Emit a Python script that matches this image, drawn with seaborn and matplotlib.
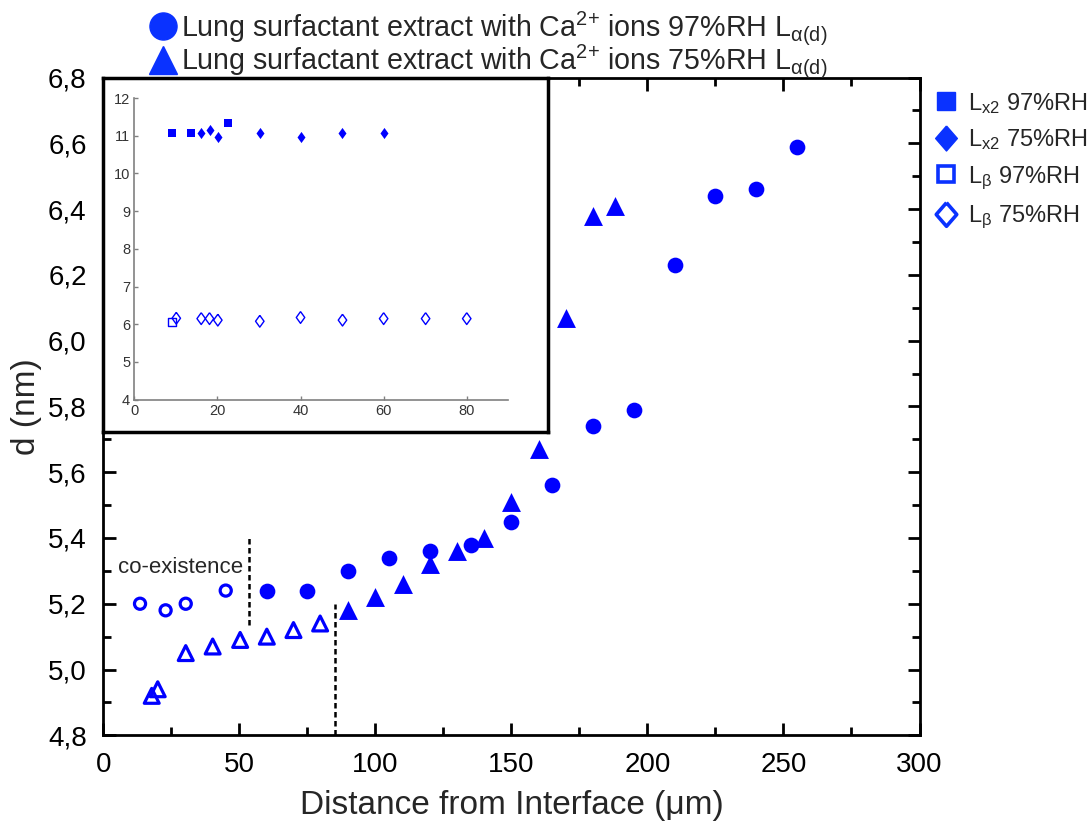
import matplotlib
matplotlib.use("Agg")
import matplotlib.pyplot as plt
import numpy as np
import pandas as pd
import seaborn as sns
from matplotlib.lines import Line2D
from matplotlib.ticker import MultipleLocator, FuncFormatter, FixedLocator

# ---------------- data ----------------
circ_open_x = [13.5, 22.9, 30.3, 45.0]
circ_open_y = [5.20, 5.18, 5.20, 5.24]
circ_fill_x = [60, 75, 90, 105, 120, 135, 150, 165, 180, 195, 210, 225, 240, 255]
circ_fill_y = [5.24, 5.24, 5.30, 5.34, 5.36, 5.38, 5.45, 5.56, 5.74, 5.79, 6.23, 6.44, 6.46, 6.59]
tri_open_x = [17.8, 20.0, 30.3, 40.2, 50.3, 60.1, 69.9, 79.7]
tri_open_y = [4.92, 4.94, 5.05, 5.07, 5.09, 5.10, 5.12, 5.14]
tri_fill_x = [90, 100, 110, 120, 130, 140, 150, 160, 170, 180, 188]
tri_fill_y = [5.18, 5.22, 5.26, 5.32, 5.36, 5.40, 5.51, 5.67, 6.07, 6.38, 6.41]

# inset
lx2_97_x = [9.0, 13.6, 22.6]
lx2_97_y = [11.07, 11.07, 11.34]
lx2_75_x = [16.1, 18.1, 20.1, 30.2, 40.0, 50.1, 60.0]
lx2_75_y = [11.07, 11.16, 10.97, 11.07, 10.97, 11.07, 11.07]
lb_97_x = [9.1]
lb_97_y = [6.06]
lb_75_x = [10.1, 16.1, 18.1, 20.1, 30.2, 40.0, 50.1, 60.0, 70.1, 80.0]
lb_75_y = [6.16, 6.15, 6.15, 6.11, 6.08, 6.18, 6.11, 6.15, 6.15, 6.15]

x_ticks = [0, 50, 100, 150, 200, 250, 300]
y_ticks = [4.8, 5.0, 5.2, 5.4, 5.6, 5.8, 6.0, 6.2, 6.4, 6.6, 6.8]
inset_x_ticks = [0, 20, 40, 60, 80]
inset_y_ticks = [4, 5, 6, 7, 8, 9, 10, 11, 12]

legend_top = ["Lung surfactant extract with Ca$^{\\text{2+}}$ ions 97%RH L$_{\\mathrm{α(d)}}$",
              "Lung surfactant extract with Ca$^{\\text{2+}}$ ions 75%RH L$_{\\mathrm{α(d)}}$"]
legend_right = ["L$_{\\mathrm{x2}}$ 97%RH", "L$_{\\mathrm{x2}}$ 75%RH",
                "L$_{\\mathrm{β}}$ 97%RH", "L$_{\\mathrm{β}}$ 75%RH"]

BLUE = "#0000ff"
LBLUE = "#0a32ff"

sns.set_style("ticks")
plt.rcParams["font.family"] = ["Liberation Sans", "DejaVu Sans"]
plt.rcParams["mathtext.fontset"] = "custom"
plt.rcParams["mathtext.rm"] = "Liberation Sans"
plt.rcParams["mathtext.it"] = "Liberation Sans:italic"
plt.rcParams["mathtext.bf"] = "Liberation Sans:bold"

# diamond marker shapes (width/height ratio)
DIA_WIDE = [(0, 1), (0.87, 0), (0, -1), (-0.87, 0), (0, 1)]
DIA_THIN = [(0, 1), (0.72, 0), (0, -1), (-0.72, 0), (0, 1)]

W, H = 1091, 832
fig = plt.figure(figsize=(W / 100, H / 100), dpi=100)

def fx(px):
    return px / W

def fy(py):
    return 1 - py / H

L, R, T, B = 103.3, 919.5, 77.5, 735.3
ax = fig.add_axes([fx(L), fy(B), (R - L) / W, (B - T) / H])

sns.scatterplot(x=circ_open_x, y=circ_open_y, ax=ax, marker="o", s=64,
                facecolor="none", edgecolor=BLUE, linewidth=2.3, zorder=3)
sns.scatterplot(x=circ_fill_x, y=circ_fill_y, ax=ax, marker="o", s=128,
                color=BLUE, edgecolor=BLUE, linewidth=0, zorder=3)
sns.scatterplot(x=tri_open_x, y=tri_open_y, ax=ax, marker="^", s=115,
                facecolor="none", edgecolor=BLUE, linewidth=2.3, zorder=3)
sns.scatterplot(x=tri_fill_x, y=tri_fill_y, ax=ax, marker="^", s=185,
                color=BLUE, edgecolor=BLUE, linewidth=0, zorder=3)

ax.set_xlim(0, 300)
ax.set_ylim(4.8, 6.8)
ax.xaxis.set_major_locator(FixedLocator(x_ticks))
ax.xaxis.set_minor_locator(MultipleLocator(25))
ax.yaxis.set_major_locator(FixedLocator(y_ticks))
ax.yaxis.set_minor_locator(MultipleLocator(0.1))
ax.yaxis.set_major_formatter(FuncFormatter(lambda v, p: f"{v:.1f}".replace(".", ",")))
ax.xaxis.set_major_formatter(FuncFormatter(lambda v, p: f"{v:.0f}"))
ax.tick_params(which="both", direction="in", top=True, right=True, width=2,
               labelsize=20, color="black", labelcolor="black")
ax.tick_params(which="major", length=9, pad=12)
ax.tick_params(which="minor", length=5.5)
for s in ax.spines.values():
    s.set_linewidth(2)
    s.set_color("black")
    s.set_visible(True)
ax.set_xlabel("Distance from Interface (μm)", fontsize=24, labelpad=9)
ax.set_ylabel("d (nm)", fontsize=24, labelpad=4)

# dashed lines
ax.plot([53.6, 53.6], [5.135, 5.40], ls=(0, (2.2, 1.4)), color="black", lw=1.8, zorder=2)
ax.plot([85.1, 85.1], [4.80, 5.20], ls=(0, (2.2, 1.4)), color="black", lw=1.8, zorder=2)
ax.text(51.5, 5.31, "co-existence", fontsize=16, ha="right", va="center")

# inset frame
frame = fig.add_axes([fx(L), fy(432), (548.3 - L) / W, (432 - T) / H])
frame.set_xticks([])
frame.set_yticks([])
for s in frame.spines.values():
    s.set_linewidth(2.5)
    s.set_color("black")
frame.set_zorder(5)

ins = fig.add_axes([fx(134.3), fy(399.7), (508.3 - 134.3) / W, (399.7 - 98) / H])
ins.set_zorder(6)
ins.patch.set_alpha(0)
sns.scatterplot(x=lx2_97_x, y=lx2_97_y, ax=ins, marker="s", s=36, color=BLUE,
                edgecolor=BLUE, linewidth=0)
sns.scatterplot(x=lx2_75_x, y=lx2_75_y, ax=ins, marker=DIA_THIN, s=64, color=BLUE,
                edgecolor=BLUE, linewidth=0)
sns.scatterplot(x=lb_97_x, y=lb_97_y, ax=ins, marker="s", s=36, facecolor="none",
                edgecolor=BLUE, linewidth=1)
sns.scatterplot(x=lb_75_x, y=lb_75_y, ax=ins, marker=DIA_THIN, s=72, facecolor="none",
                edgecolor=BLUE, linewidth=1)
ins.set_xlim(0, 90)
ins.set_ylim(4, 12)
ins.set_xticks(inset_x_ticks)
ins.set_yticks(inset_y_ticks)
ins.spines["top"].set_visible(False)
ins.spines["right"].set_visible(False)
for k in ("left", "bottom"):
    ins.spines[k].set_color("#808080")
    ins.spines[k].set_linewidth(1.2)
ins.tick_params(direction="in", length=3, width=1, color="#808080",
                labelsize=10.5, labelcolor="#333333", pad=3)

# legends
top_handles = [
    Line2D([], [], ls="none", marker="o", ms=19.5, color=LBLUE, mec=LBLUE),
    Line2D([], [], ls="none", marker="^", ms=20, color=LBLUE, mec=LBLUE),
]
leg1 = fig.legend(top_handles, legend_top, loc="upper left",
                  bbox_to_anchor=(fx(144), fy(3)), frameon=False, fontsize=20.6,
                  handlelength=0.9, handletextpad=0.2, labelspacing=-0.14,
                  borderpad=0.2, borderaxespad=0)

right_handles = [
    Line2D([], [], ls="none", marker="s", ms=12.5, color=LBLUE, mec=LBLUE),
    Line2D([], [], ls="none", marker=DIA_WIDE, ms=18, color=LBLUE, mec=LBLUE),
    Line2D([], [], ls="none", marker="s", ms=11.5, mfc="none", mec=LBLUE, mew=2.6),
    Line2D([], [], ls="none", marker=DIA_WIDE, ms=17, mfc="none", mec=LBLUE, mew=2.6),
]
leg2 = fig.legend(right_handles, legend_right, loc="upper left",
                  bbox_to_anchor=(fx(929), fy(86)), frameon=False, fontsize=17,
                  handlelength=1.0, handletextpad=0.45, labelspacing=0.5,
                  borderpad=0.2, borderaxespad=0)

fig.savefig("out.png", dpi=100)
